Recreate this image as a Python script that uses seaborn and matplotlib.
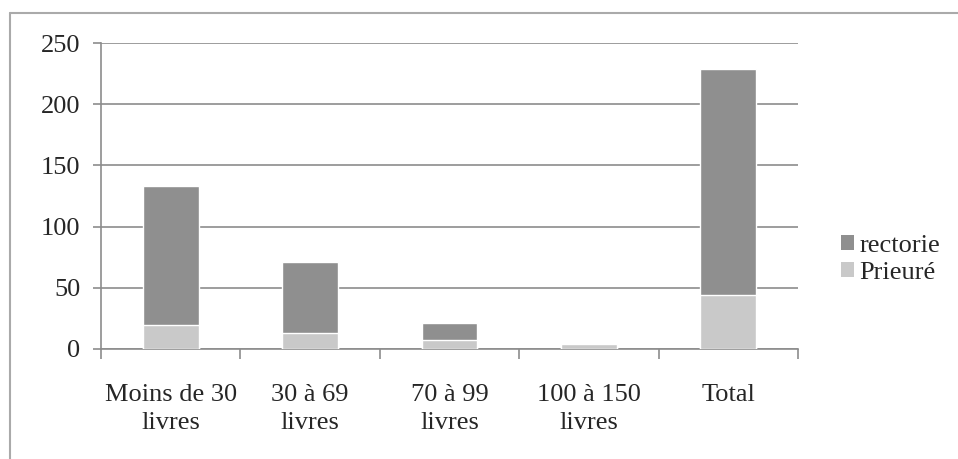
import pandas as pd
import seaborn as sns
import matplotlib.pyplot as plt
from matplotlib.patches import Patch
from matplotlib.lines import Line2D

categories = ['Moins de 30\nlivres', '30 à 69\nlivres', '70 à 99\nlivres', '100 à 150\nlivres', 'Total']
prieure = [20, 13, 7, 4, 44]
rectorie = [113, 58, 14, 0, 185]

df = pd.DataFrame({'cat': categories, 'Prieuré': prieure, 'rectorie': rectorie})
df['top'] = df['Prieuré'] + df['rectorie']

dark = '#8f8f8f'
light = '#c9c9c9'
axcol = '#8c8c8c'

sns.set_style('white')
plt.rcParams['font.family'] = ['Liberation Serif', 'DejaVu Serif']

fig = plt.figure(figsize=(9.58, 4.59), dpi=100)
ax = fig.add_axes([0.1054, 0.2397, 0.833 - 0.1054, 0.9063 - 0.2397])

sns.barplot(data=df, x='cat', y='top', color=dark, width=0.4, saturation=1, ax=ax, zorder=3)
sns.barplot(data=df, x='cat', y='Prieuré', color=light, width=0.4, saturation=1, ax=ax, zorder=3)

ax.set_xlim(-0.5, 4.5)
ax.set_ylim(0, 250)
ax.set_yticks(range(0, 251, 50))
ax.yaxis.grid(True, color=axcol, linewidth=1.2, zorder=0)
ax.set_axisbelow(True)
ax.set_xlabel('')
ax.set_ylabel('')

for s in ['top', 'right']:
    ax.spines[s].set_visible(False)
for s in ['left', 'bottom']:
    ax.spines[s].set_color(axcol)
    ax.spines[s].set_linewidth(1.2)

ax.set_xticks([-0.5, 0.5, 1.5, 2.5, 3.5, 4.5], minor=True)
ax.tick_params(axis='x', which='minor', length=7, width=1.2, color=axcol, direction='out', bottom=True)
ax.tick_params(axis='x', which='major', length=0, pad=25.5, labelsize=19)
ax.tick_params(axis='y', length=6, width=1.2, color=axcol, direction='out', left=True, pad=9, labelsize=19)
for t in ax.get_xticklabels():
    t.set_linespacing(1.35)

handles = [Patch(facecolor=dark, edgecolor='none', label='rectorie'),
           Patch(facecolor=light, edgecolor='none', label='Prieuré')]
fig.legend(handles=handles, loc='center left', bbox_to_anchor=(0.878, 0.435), frameon=False,
           fontsize=19, handlelength=0.5, handleheight=0.5, handletextpad=0.2, labelspacing=0.2,
           borderaxespad=0, borderpad=0)

# cadre du graphique (haut et gauche)
fig.add_artist(Line2D([10 / 958, 10 / 958], [0, 1 - 13 / 459], color='#aaaaaa', linewidth=1.5))
fig.add_artist(Line2D([10 / 958, 1], [1 - 13 / 459, 1 - 13 / 459], color='#aaaaaa', linewidth=1.5))

plt.savefig('out.png', dpi=100)
